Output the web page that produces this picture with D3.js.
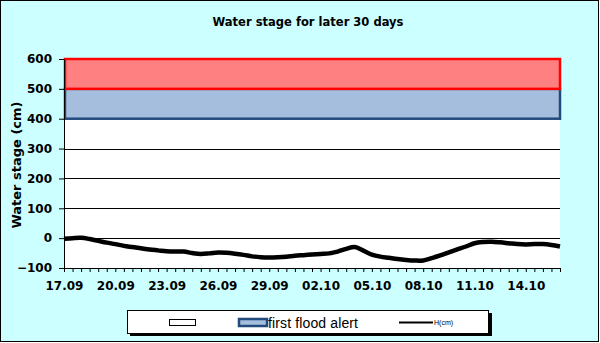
<!DOCTYPE html>
<html><head><meta charset="utf-8">
<script src="https://cdn.jsdelivr.net/npm/d3@7"></script>
<style>body{margin:0;background:#fff}svg{display:block}</style>
</head><body>
<svg id="c" width="600" height="343"></svg>
<script>
// ---- data ----
const dayLabels = ["17.09","18.09","19.09","20.09","21.09","22.09","23.09","24.09","25.09","26.09","27.09","28.09","29.09","30.09","01.10","02.10","03.10","04.10","05.10","06.10","07.10","08.10","09.10","10.10","11.10","12.10","13.10","14.10","15.10","16.10"];
// half-day sample points (00h,12h)
const categories = [];
dayLabels.forEach((d,i)=>{categories.push(d+" 00h"); if(i<dayLabels.length-1) categories.push(d+" 12h");});
const stage = [-2,0,1,-3,-9,-15,-20,-26,-30,-34,-38,-41,-44,-45,-45,-50,-53,-51,-48,-49,-52,-56,-61,-64,-65,-64,-62,-59,-57,-55,-53,-51,-45,-36,-30,-42,-55,-62,-66,-70,-73,-75,-75,-67,-58,-48,-38,-28,-17,-13,-12,-14,-17,-20,-21,-20,-20,-23,-28];
const bands = [
  {name:"", from:500, to:600, fill:"#ff8080", stroke:"#ff0000"},
  {name:"first flood alert", from:400, to:500, fill:"#a6bedd", stroke:"#224a7c"}
];
const yTicks = [-100,0,100,200,300,400,500,600];
const title = "Water stage for later 30 days";
const yTitle = "Water stage (cm)";
const seriesName = "H(cm)";

// ---- drawing ----
const svg = d3.select("#c");
svg.append("rect").attr("x",0.5).attr("y",0.5).attr("width",598).attr("height",341)
  .attr("fill","#ccffff").attr("stroke","#000");

const L=64,R=560,T=59,B=268;
const x = d3.scalePoint().domain(categories).range([L,R]);
const y = d3.scaleLinear().domain([-100,600]).range([B,T]);
const font = "'DejaVu Sans', Verdana, sans-serif";

svg.append("text").attr("x",308).attr("y",26).attr("text-anchor","middle")
  .attr("font-family",font).attr("font-weight","bold").attr("font-size",12.5)
  .attr("textLength",191).attr("lengthAdjust","spacingAndGlyphs").text(title);

// plot area
svg.append("rect").attr("x",L).attr("y",T).attr("width",R-L).attr("height",B-T).attr("fill","#fff");

// grid
svg.append("g").selectAll("line").data(yTicks.filter(v=>v>-100&&v<400)).join("line")
  .attr("x1",L).attr("x2",R).attr("y1",d=>Math.round(y(d))+0.5).attr("y2",d=>Math.round(y(d))+0.5)
  .attr("stroke","#000").attr("stroke-width",1);

// bands
bands.slice().reverse().forEach(b=>{
  svg.append("rect").attr("x",L+1).attr("y",y(b.to)).attr("width",R-L-1).attr("height",y(b.from)-y(b.to))
    .attr("fill",b.fill).attr("stroke",b.stroke).attr("stroke-width",2.5);
});

// line
svg.append("path").datum(stage)
  .attr("d",d3.line().x((d,i)=>x(categories[i])).y(d=>y(d)).curve(d3.curveCatmullRom.alpha(0.5)))
  .attr("fill","none").attr("stroke","#000").attr("stroke-width",4.5).attr("stroke-linejoin","round");

// axes
const yAxis = svg.append("g").attr("transform",`translate(${L},0)`)
  .call(d3.axisLeft(y).tickValues(yTicks).tickSize(5).tickPadding(7).tickSizeOuter(0));
yAxis.select(".domain").attr("stroke","#000");
yAxis.selectAll("text").attr("font-family",font).attr("font-weight","bold").attr("font-size",12).attr("fill","#000");

const xAxis = svg.append("g").attr("transform",`translate(0,${B})`)
  .call(d3.axisBottom(x).tickSize(4).tickPadding(9).tickSizeOuter(0)
    .tickFormat((d,i)=> (i%6===0 && i<categories.length-1) ? d.slice(0,5) : ""));
xAxis.select(".domain").attr("stroke","#000");
xAxis.selectAll("text").attr("font-family",font).attr("font-weight","bold").attr("font-size",12).attr("fill","#000");

svg.append("text").attr("transform","translate(21,165) rotate(-90)").attr("text-anchor","middle")
  .attr("font-family",font).attr("font-weight","bold").attr("font-size",13).text(yTitle);

// legend
const lg = svg.append("g");
lg.append("rect").attr("x",130).attr("y",313).attr("width",362).attr("height",23).attr("fill","#000");
lg.append("rect").attr("x",127.5).attr("y",310.5).attr("width",361).attr("height",23).attr("fill","#fff").attr("stroke","#000");
lg.append("rect").attr("x",169.5).attr("y",319.5).attr("width",26).attr("height",6).attr("fill","#fff").attr("stroke","#000");
lg.append("rect").attr("x",239).attr("y",319).attr("width",28).attr("height",7).attr("fill",bands[1].fill).attr("stroke",bands[1].stroke).attr("stroke-width",2.5);
lg.append("text").attr("x",268).attr("y",328).attr("font-family","'Liberation Sans', Arial, sans-serif").attr("font-size",14).attr("textLength",90).text(bands[1].name);
lg.append("line").attr("x1",399).attr("x2",433).attr("y1",322.5).attr("y2",322.5).attr("stroke","#000").attr("stroke-width",2);
lg.append("text").attr("x",434).attr("y",325).attr("font-family","'Liberation Sans', Arial, sans-serif").attr("font-size",7).text(seriesName);
</script>
</body></html>
